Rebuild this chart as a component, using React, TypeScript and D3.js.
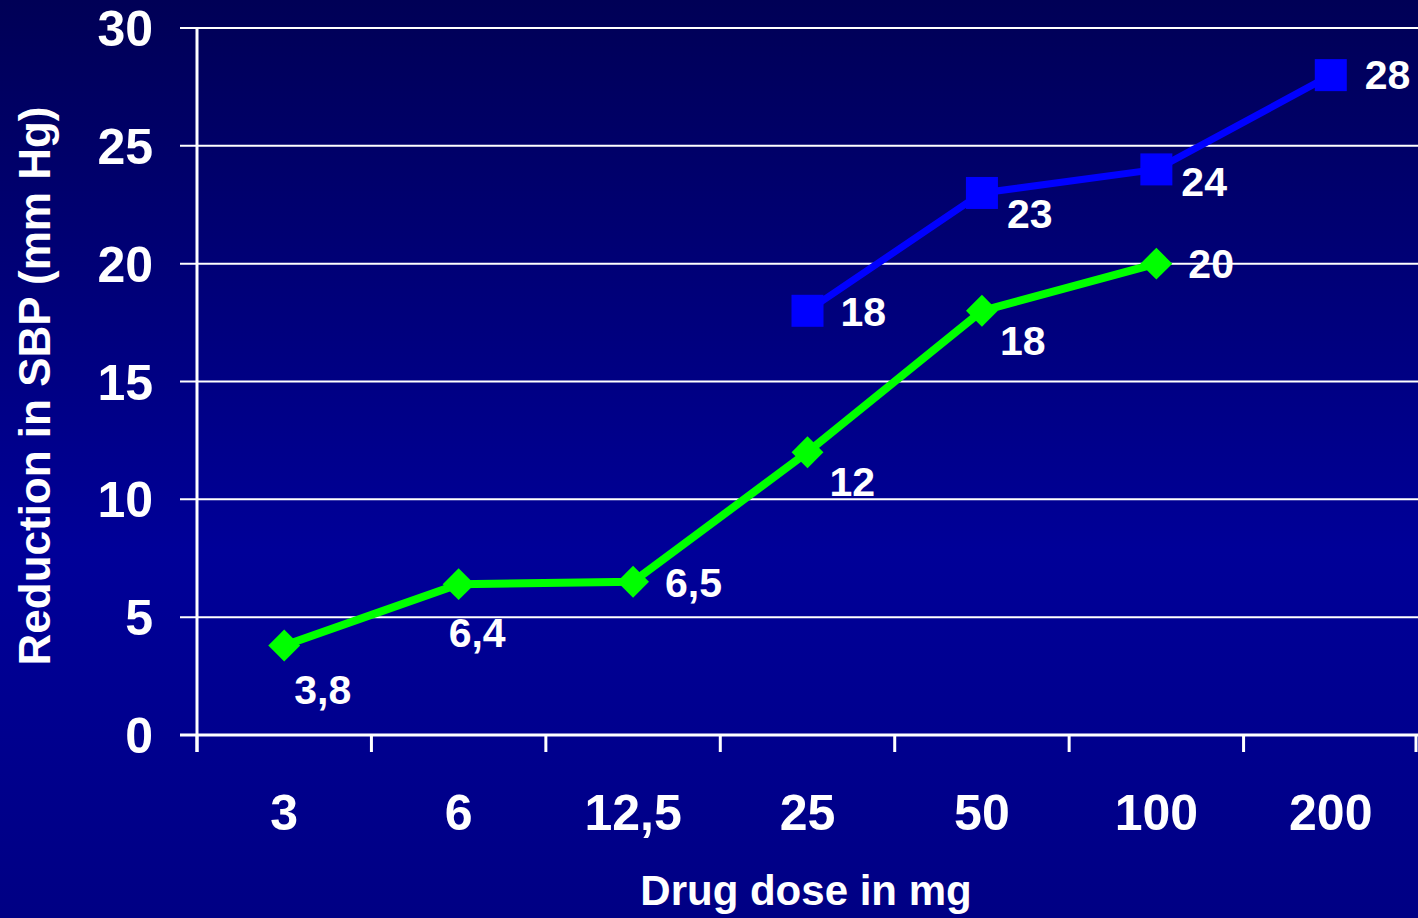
import React, { useEffect, useRef } from 'react';
import * as d3 from 'd3';

// doses on the x axis
const doses = ['3', '6', '12,5', '25', '50', '100', '200'];
// green series (diamonds)
const greenDoses = ['3', '6', '12,5', '25', '50', '100'];
const greenValues = [3.8, 6.4, 6.5, 12, 18, 20];
// blue series (squares)
const blueDoses = ['25', '50', '100', '200'];
const blueValues = [18, 23, 24, 28];
const yTicks = [0, 5, 10, 15, 20, 25, 30];

// where each value label sits relative to its point
const greenLabelOffsets: [number, number][] = [[10, 59], [-10, 63], [32, 15], [22, 44], [18, 44], [32, 14]];
const blueLabelOffsets: [number, number][] = [[33, 15], [25, 35], [25, 27], [34, 14]];

const fmt = (v: number) => String(v).replace('.', ',');

const App = () => {
  const ref = useRef<SVGSVGElement>(null);

  useEffect(() => {
    const svg = d3.select(ref.current).attr('width', 1418).attr('height', 918);
    svg.selectAll('*').remove();

    const font = '"Liberation Sans", Arial, sans-serif';
    const left = 197, right = 1418, top = 28, bottom = 735;

    const defs = svg.append('defs');
    const grad = defs.append('linearGradient').attr('id', 'bg').attr('x1', 0).attr('y1', 0).attr('x2', 0).attr('y2', 1);
    grad.append('stop').attr('offset', '0%').attr('stop-color', '#000056');
    grad.append('stop').attr('offset', '60%').attr('stop-color', '#000098');
    grad.append('stop').attr('offset', '100%').attr('stop-color', '#000084');
    svg.append('rect').attr('width', 1418).attr('height', 918).attr('fill', 'url(#bg)');

    const x = d3.scaleBand().domain(doses).range([left, right]).padding(0);
    const y = d3.scaleLinear().domain([0, 30]).range([bottom, top]);
    const cx = (d: string) => (x(d) as number) + x.bandwidth() / 2;

    // gridlines + y ticks
    svg.append('g').selectAll('line').data(yTicks).enter().append('line')
      .attr('x1', left - 17).attr('x2', right)
      .attr('y1', d => y(d)).attr('y2', d => y(d))
      .attr('stroke', '#fff').attr('stroke-width', d => (d === 0 ? 3 : 2));

    svg.append('g').selectAll('text').data(yTicks).enter().append('text')
      .attr('x', 153).attr('y', d => y(d)).attr('dy', '0.36em')
      .attr('text-anchor', 'end').attr('fill', '#fff')
      .attr('font-family', font).attr('font-weight', 'bold').attr('font-size', 50)
      .text(d => d);

    // y axis line
    svg.append('line').attr('x1', left).attr('x2', left).attr('y1', top).attr('y2', bottom + 17)
      .attr('stroke', '#fff').attr('stroke-width', 3);

    // x tick marks at band boundaries
    const bounds = doses.map(d => x(d) as number).concat([right - 2]);
    svg.append('g').selectAll('line').data(bounds).enter().append('line')
      .attr('x1', d => d).attr('x2', d => d).attr('y1', bottom).attr('y2', bottom + 17)
      .attr('stroke', '#fff').attr('stroke-width', 3);

    svg.append('g').selectAll('text').data(doses).enter().append('text')
      .attr('x', d => cx(d)).attr('y', 830)
      .attr('text-anchor', 'middle').attr('fill', '#fff')
      .attr('font-family', font).attr('font-weight', 'bold').attr('font-size', 50)
      .text(d => d);

    // axis titles
    svg.append('text').attr('x', 806).attr('y', 905).attr('text-anchor', 'middle')
      .attr('fill', '#fff').attr('font-family', font).attr('font-weight', 'bold').attr('font-size', 42)
      .text('Drug dose in mg');
    svg.append('text').attr('transform', 'translate(50,386) rotate(-90)').attr('text-anchor', 'middle')
      .attr('fill', '#fff').attr('font-family', font).attr('font-weight', 'bold').attr('font-size', 44)
      .text('Reduction in SBP (mm Hg)');

    const line = d3.line<[string, number]>().x(d => cx(d[0])).y(d => y(d[1]));

    // blue series
    const bluePts = blueDoses.map((d, i) => [d, blueValues[i]] as [string, number]);
    svg.append('path').attr('d', line(bluePts)).attr('fill', 'none')
      .attr('stroke', '#0000ff').attr('stroke-width', 7);
    svg.append('g').selectAll('rect').data(bluePts).enter().append('rect')
      .attr('x', d => cx(d[0]) - 16).attr('y', d => y(d[1]) - 16)
      .attr('width', 32).attr('height', 32).attr('fill', '#0000ff');

    // green series
    const greenPts = greenDoses.map((d, i) => [d, greenValues[i]] as [string, number]);
    svg.append('path').attr('d', line(greenPts)).attr('fill', 'none')
      .attr('stroke', '#00ff00').attr('stroke-width', 8);
    svg.append('g').selectAll('path').data(greenPts).enter().append('path')
      .attr('d', d3.symbol().type(d3.symbolDiamond2).size(36 * 36 / 2)() as string)
      .attr('transform', d => `translate(${cx(d[0])},${y(d[1])})`)
      .attr('fill', '#00ff00');

    // value labels
    const labels = (pts: [string, number][], offs: [number, number][]) =>
      svg.append('g').selectAll('text').data(pts).enter().append('text')
        .attr('x', (d, i) => cx(d[0]) + offs[i][0]).attr('y', (d, i) => y(d[1]) + offs[i][1])
        .attr('fill', '#fff').attr('font-family', font).attr('font-weight', 'bold').attr('font-size', 41)
        .text(d => fmt(d[1]));
    labels(bluePts, blueLabelOffsets);
    labels(greenPts, greenLabelOffsets);
  }, []);

  return <svg ref={ref} style={{ position: 'absolute', left: 0, top: 0, display: 'block' }}></svg>;
};

export default App;
